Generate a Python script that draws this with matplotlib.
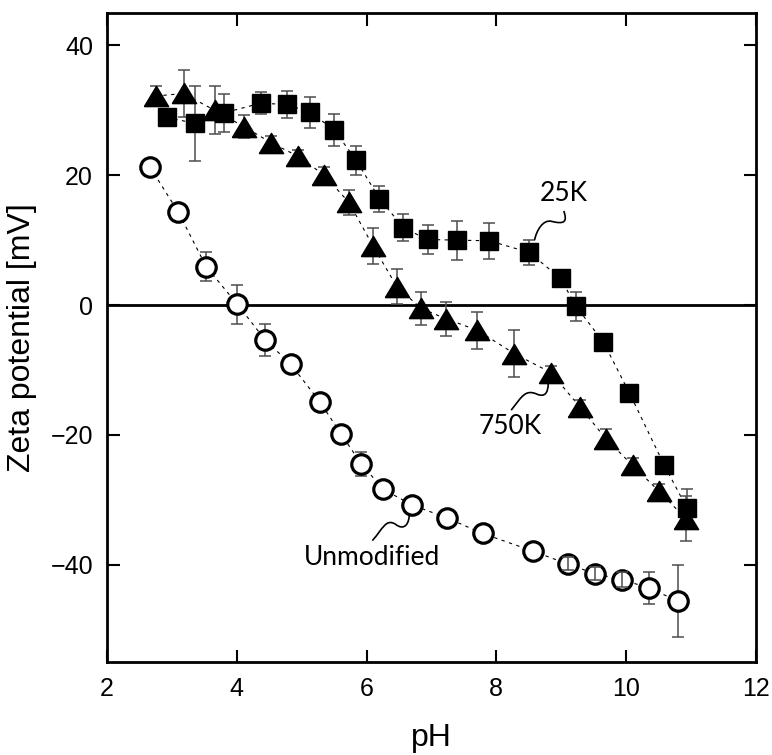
import numpy as np
import matplotlib
matplotlib.use('Agg')
import matplotlib.pyplot as plt
from matplotlib.path import Path
from matplotlib.patches import PathPatch

# Unmodified (open circles)
ph_unmod = [2.66, 3.10, 3.53, 4.01, 4.44, 4.83, 5.28, 5.61, 5.92, 6.26, 6.70, 7.24,
            7.79, 8.56, 9.10, 9.52, 9.94, 10.35, 10.80]
zeta_unmod = [21.3, 14.3, 5.9, 0.1, -5.4, -9.1, -14.9, -19.9, -24.5, -28.4, -30.8, -32.8,
              -35.2, -37.9, -39.9, -41.4, -42.3, -43.6, -45.6]
err_unmod = [0.8, 0.6, 2.2, 3.0, 2.5, 1.2, 0.6, 0.5, 1.9, 0.5, 1.0, 0.5,
             0.6, 0.5, 1.0, 1.0, 1.2, 2.4, 5.6]

# 25K (filled squares)
ph_25k = [2.92, 3.36, 3.80, 4.37, 4.77, 5.13, 5.50, 5.84, 6.20, 6.57, 6.94, 7.39,
          7.89, 8.51, 8.99, 9.23, 9.65, 10.05, 10.59, 10.94]
zeta_25k = [28.9, 28.0, 29.6, 31.1, 30.9, 29.7, 27.0, 22.3, 16.4, 11.9, 10.1, 10.0,
            9.9, 8.1, 4.1, -0.2, -5.7, -13.5, -24.7, -31.3]
err_25k = [1.0, 5.8, 2.9, 1.7, 2.1, 2.4, 2.5, 2.2, 2.0, 2.1, 2.3, 3.0,
           2.8, 1.9, 1.0, 2.2, 0.8, 0.8, 0.8, 2.9]

# 750K (filled triangles)
ph_750k = [2.75, 3.18, 3.66, 4.11, 4.53, 4.95, 5.35, 5.73, 6.10, 6.47, 6.84, 7.22,
           7.71, 8.28, 8.84, 9.29, 9.69, 10.10, 10.51, 10.92]
zeta_750k = [32.2, 32.6, 30.0, 27.5, 25.0, 22.9, 20.0, 15.8, 9.1, 2.8, -0.5, -2.1,
             -3.9, -7.5, -10.4, -15.7, -20.6, -24.7, -28.7, -32.9]
err_750k = [1.5, 3.6, 3.7, 1.8, 1.0, 1.0, 1.2, 1.9, 2.8, 2.7, 2.5, 2.6,
            2.8, 3.6, 1.0, 1.0, 1.5, 1.2, 1.2, 3.4]

# circles whose small error caps show through the marker
inner_caps = [9.10, 9.52, 9.94]

tri = [(-1.2, -1.0), (1.2, -1.0), (0.0, 1.0), (-1.2, -1.0)]

fig = plt.figure(figsize=(7.72, 7.55), dpi=100)
ax = fig.add_axes([0.1386, 0.1232, 0.8404, 0.8596])

ax.axhline(0, color='black', lw=2, zorder=1)

ebkw = dict(fmt='none', ecolor='0.3', elinewidth=1.1, capsize=4.3, capthick=1.1)
dash = dict(color='black', lw=0.8, dashes=(3, 4), zorder=2)

ax.plot(ph_unmod, zeta_unmod, **dash)
ax.errorbar(ph_unmod, zeta_unmod, yerr=err_unmod, zorder=2.5, **ebkw)
ax.plot(ph_unmod, zeta_unmod, 'o', ms=14, mfc='white', mec='black', mew=2.3, ls='none', zorder=3)
sel = [i for i, p in enumerate(ph_unmod) if p in inner_caps]
ax.errorbar([ph_unmod[i] for i in sel], [zeta_unmod[i] for i in sel],
            yerr=[err_unmod[i] for i in sel], zorder=3.5, **ebkw)

ax.plot(ph_25k, zeta_25k, **dash)
ax.errorbar(ph_25k, zeta_25k, yerr=err_25k, zorder=4, **ebkw)
ax.plot(ph_25k, zeta_25k, 's', ms=13, color='black', ls='none', zorder=5)

ax.plot(ph_750k, zeta_750k, **dash)
ax.errorbar(ph_750k, zeta_750k, yerr=err_750k, zorder=4, **ebkw)
ax.plot(ph_750k, zeta_750k, marker=tri, ms=17.5, color='black', ls='none', zorder=5)


def wiggle(pts):
    codes = [Path.MOVETO] + [Path.CURVE4] * (len(pts) - 1)
    ax.add_patch(PathPatch(Path(pts, codes), fc='none', ec='black', lw=1.2, zorder=6))


wiggle([(9.04, 14.5), (9.10, 12.8), (9.05, 12.4), (8.85, 12.9),
        (8.72, 13.2), (8.62, 11.5), (8.59, 10.0)])
wiggle([(8.80, -12.1), (8.80, -13.5), (8.75, -14.3), (8.62, -13.7),
        (8.45, -13.0), (8.40, -14.0), (8.23, -16.2)])
wiggle([(6.66, -32.1), (6.66, -33.8), (6.58, -34.8), (6.45, -33.8),
        (6.30, -32.8), (6.25, -34.5), (6.09, -36.3)])

afont = dict(family=['Lato', 'DejaVu Sans'], fontsize=19, ha='center', va='center')
ax.text(9.04, 17.2, '25K', **afont)
ax.text(8.22, -18.7, '750K', **afont)
ax.text(6.09, -38.9, 'Unmodified', **afont)

ax.set_xlim(2, 12)
ax.set_ylim(-55, 45)
ax.set_xticks([2, 4, 6, 8, 10, 12])
ax.set_yticks([-40, -20, 0, 20, 40])
ax.set_yticklabels(['\u221240', '\u221220', '0', '20', '40'])

for s in ax.spines.values():
    s.set_linewidth(2)
ax.tick_params(direction='in', length=9, width=1.5, top=True, right=True,
               labelsize=18)
ax.tick_params(axis='x', pad=11)
ax.tick_params(axis='y', pad=10)
for lab in ax.get_xticklabels() + ax.get_yticklabels():
    lab.set_family(['Liberation Sans', 'DejaVu Sans'])

ax.set_xlabel('pH', fontsize=23, family=['Liberation Sans', 'DejaVu Sans'], labelpad=16)
ax.set_ylabel('Zeta potential [mV]', fontsize=23, family=['Liberation Sans', 'DejaVu Sans'], labelpad=10)

fig.savefig('out.png', dpi=100)
